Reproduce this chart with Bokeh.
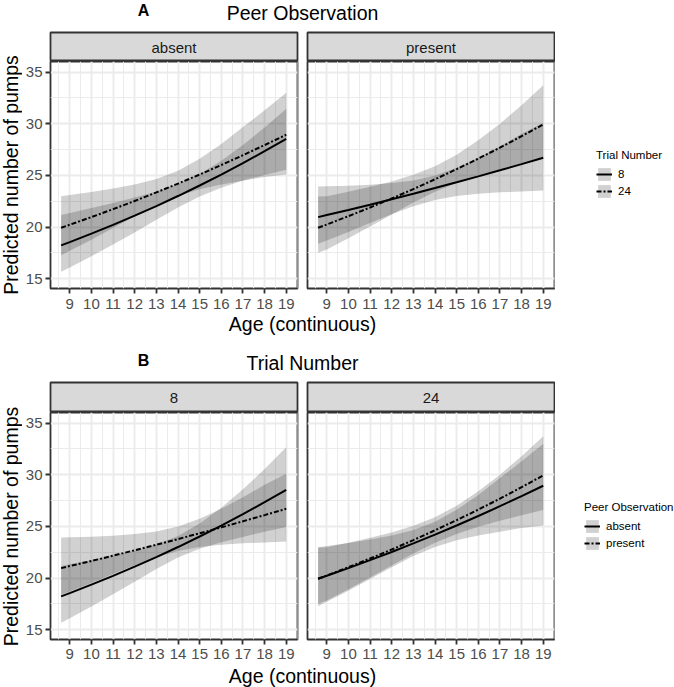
import math
from bokeh.plotting import figure
from bokeh.models import Range1d, FixedTicker, Label, Legend, LegendItem
from bokeh.layouts import row, column
from bokeh.embed import file_html
from bokeh.resources import INLINE

# ---------------- data ----------------
age = [8.6, 9, 10, 11, 12, 13, 14, 15, 16, 17, 18, 19]

# predicted lines
absent_t8 = [18.23, 18.55, 19.37, 20.22, 21.11, 22.04, 23.01, 24.03, 25.09, 26.19, 27.35, 28.55]
absent_t24 = [19.94, 20.23, 20.97, 21.74, 22.53, 23.36, 24.21, 25.09, 26.01, 26.96, 27.94, 28.94]
present_t8 = [20.97, 21.17, 21.66, 22.17, 22.70, 23.23, 23.78, 24.34, 24.91, 25.50, 26.10, 26.71]
present_t24 = [19.94, 20.25, 21.06, 21.90, 22.77, 23.68, 24.63, 25.61, 26.63, 27.69, 28.80, 29.94]

# confidence bands
absent_t8_lo_A = [15.69, 16.10, 17.18, 18.31, 19.49, 20.71, 21.90, 22.97, 23.82, 24.52, 25.05, 25.55]
absent_t8_hi_A = [21.18, 21.37, 21.84, 22.33, 22.86, 23.46, 24.17, 25.14, 26.42, 27.95, 29.65, 31.45]
absent_t8_lo_B = [15.69, 16.12, 17.25, 18.43, 19.66, 20.89, 22.00, 22.84, 23.47, 23.99, 24.48, 24.95]
absent_t8_hi_B = [21.18, 21.34, 21.75, 22.18, 22.66, 23.25, 24.07, 25.28, 26.82, 28.59, 30.55, 32.67]
absent_t24_lo = [17.29, 17.71, 18.79, 19.92, 21.05, 22.13, 23.02, 23.66, 24.12, 24.49, 24.85, 25.10]
absent_t24_hi = [23.00, 23.11, 23.40, 23.73, 24.12, 24.66, 25.46, 26.61, 28.05, 29.68, 31.30, 33.00]
present_t8_lo = [18.38, 18.71, 19.54, 20.39, 21.24, 22.01, 22.62, 23.01, 23.23, 23.37, 23.45, 23.55]
present_t8_hi = [23.93, 23.95, 24.01, 24.10, 24.26, 24.52, 25.00, 25.74, 26.71, 27.82, 29.04, 30.10]
present_t24_lo = [17.52, 17.84, 18.93, 20.07, 21.23, 22.38, 23.42, 24.28, 24.97, 25.55, 26.08, 26.60]
present_t24_hi = [22.97, 22.99, 23.43, 23.90, 24.42, 25.06, 25.90, 27.01, 28.40, 30.01, 31.80, 33.72]

x_ticks = [9, 10, 11, 12, 13, 14, 15, 16, 17, 18, 19]
x_minor = [8.5, 9.5, 10.5, 11.5, 12.5, 13.5, 14.5, 15.5, 16.5, 17.5, 18.5, 19.5]
y_ticks = [15, 20, 25, 30, 35]
y_minor = [17.5, 22.5, 27.5, 32.5]

trial_labels = ["8", "24"]
peer_labels = ["absent", "present"]

# ---------------- styles ----------------
FONT = "Liberation Sans"
BAND_ALPHA = 0.18
DASH = "5 2 2 2"
LW = 2
BORDER = "#333333"
YLAB_W = 22
LEFT_B = 28


def make_panel(show_y, series, bottom, x_standoff):
    width = LEFT_B + 247 + 5 if show_y else 253
    p = figure(width=width, height=227 + bottom,
               x_range=Range1d(8.11, 19.52), y_range=Range1d(14.06, 36.03),
               output_backend="svg", toolbar_location=None,
               min_border_left=LEFT_B if show_y else 5,
               min_border_right=5 if show_y else 1,
               min_border_top=0, min_border_bottom=bottom,
               y_axis_location="left" if show_y else None)
    p.outline_line_color = BORDER
    p.outline_line_width = 1.8
    p.xgrid.ticker = FixedTicker(ticks=x_ticks, minor_ticks=x_minor)
    p.ygrid.ticker = FixedTicker(ticks=y_ticks, minor_ticks=y_minor)
    p.grid.grid_line_color = "#ebebeb"
    p.grid.grid_line_width = 1.9
    p.grid.minor_grid_line_color = "#ebebeb"
    p.grid.minor_grid_line_width = 1.0
    axes = [p.xaxis[0]] + ([p.yaxis[0]] if show_y else [])
    for ax in axes:
        ax.axis_line_color = None
        ax.major_tick_line_color = BORDER
        ax.major_tick_line_width = 1.8
        ax.major_tick_out = 5
        ax.major_tick_in = 0
        ax.minor_tick_line_color = None
        ax.major_label_text_font = FONT
        ax.major_label_text_font_size = "15px"
        ax.major_label_text_color = "#4d4d4d"
    p.xaxis[0].ticker = FixedTicker(ticks=x_ticks)
    p.xaxis[0].major_label_standoff = x_standoff
    if show_y:
        p.yaxis[0].ticker = FixedTicker(ticks=y_ticks)
        p.yaxis[0].major_label_standoff = 3
    for lo, hi, _, _ in series:
        p.varea(x=age, y1=lo, y2=hi, fill_color="black", fill_alpha=BAND_ALPHA)
    for _, _, line, dash in series:
        p.line(x=age, y=line, line_color="black", line_width=LW, line_dash=dash)
    return p


def make_strip(show_y, height, text):
    width = LEFT_B + 247 + 5 if show_y else 253
    s = figure(width=width, height=height, x_range=Range1d(0, 1), y_range=Range1d(0, 1),
               x_axis_type=None, y_axis_type=None, output_backend="svg", toolbar_location=None,
               min_border_left=LEFT_B if show_y else 5, min_border_right=5 if show_y else 1,
               min_border_top=1, min_border_bottom=0)
    s.background_fill_color = "#d9d9d9"
    s.outline_line_color = BORDER
    s.outline_line_width = 1.8
    s.add_layout(Label(x=0.5, y=0.5, text=text, text_align="center", text_baseline="middle",
                       text_font=FONT, text_font_size="15px", text_color="#1a1a1a"))
    return s


def make_text_fig(width, height, labels, angle=0):
    f = figure(width=width, height=height, x_range=Range1d(0, width), y_range=Range1d(0, height),
               x_axis_type=None, y_axis_type=None, output_backend="svg", toolbar_location=None,
               min_border=0)
    f.outline_line_color = None
    for (x, y, txt, size, style) in labels:
        f.add_layout(Label(x=x, y=y, text=txt, text_align="center", text_baseline="middle",
                           text_font=FONT, text_font_size=size, text_font_style=style,
                           text_color="black", angle=angle))
    return f


def make_legend_fig(width, height, title, labels, series, loc):
    # the renderers use the real series but the ranges keep them out of view;
    # only their legend glyphs are shown
    f = figure(width=width, height=height, x_range=Range1d(0, 1), y_range=Range1d(0, 1),
               x_axis_type=None, y_axis_type=None, output_backend="svg", toolbar_location=None,
               min_border=0)
    f.outline_line_color = None
    items = []
    for lab, dash, (lo, hi, line) in zip(labels, ["solid", DASH], series):
        band = f.varea(x=age, y1=lo, y2=hi, fill_color="black", fill_alpha=BAND_ALPHA)
        ln = f.line(x=age, y=line, line_color="black", line_width=LW, line_dash=dash)
        items.append(LegendItem(label=lab, renderers=[band, ln]))
    leg = Legend(items=items, location=loc, title=title,
                 padding=0, margin=0, spacing=1,
                 glyph_width=16, glyph_height=16, label_height=16, label_standoff=6,
                 label_text_font=FONT, label_text_font_size="11.5px", label_text_color="black",
                 title_text_font=FONT, title_text_font_size="11.5px", title_text_font_style="normal",
                 title_text_color="black", title_standoff=5,
                 border_line_color=None, background_fill_alpha=0)
    f.add_layout(leg)
    return f


XW = LEFT_B + 247 + 5 + 253   # width under both panels
XC = 302 - YLAB_W             # centre of both panels in that width
LEG_W = 674 - YLAB_W - XW
YLAB_X = 10.5

# ---------------- row A: by peer observation ----------------
BOT_A = 26
headA = make_text_fig(674, 31, [(143, 31 - 9.5, "A", "16px", "bold"),
                                (302, 31 - 12.5, "Peer Observation", "19.5px", "normal")])
stripAL = make_strip(True, 30, peer_labels[0])
stripAR = make_strip(False, 30, peer_labels[1])
panelAL = make_panel(True, [(absent_t8_lo_A, absent_t8_hi_A, absent_t8, "solid"),
                            (absent_t24_lo, absent_t24_hi, absent_t24, DASH)], BOT_A, 5)
panelAR = make_panel(False, [(present_t8_lo, present_t8_hi, present_t8, "solid"),
                             (present_t24_lo, present_t24_hi, present_t24, DASH)], BOT_A, 5)
topA = 31 + 30 + 227 + BOT_A
xlabA_h = 345 - topA
xlabA = make_text_fig(XW, xlabA_h, [(XC, xlabA_h - (323.5 - topA), "Age (continuous)", "19.5px", "normal")])
ylabA = make_text_fig(YLAB_W, 314, [(YLAB_X, 314 - 143.5, "Predicted number of pumps", "19.5px", "normal")],
                      angle=math.pi / 2)
legA = make_legend_fig(LEG_W, 314, "Trial Number", trial_labels,
                       [(absent_t8_lo_A, absent_t8_hi_A, absent_t8),
                        (absent_t24_lo, absent_t24_hi, absent_t24)], (41, 146))

rowA = row(ylabA, column(row(column(stripAL, panelAL), column(stripAR, panelAR)), xlabA), legA)

# ---------------- row B: by trial number ----------------
BOT_B = 25
headB = make_text_fig(674, 36, [(143, 36 - 14.5, "B", "16px", "bold"),
                                (302, 36 - 17, "Trial Number", "19.5px", "normal")])
stripBL = make_strip(True, 31, trial_labels[0])
stripBR = make_strip(False, 31, trial_labels[1])
panelBL = make_panel(True, [(absent_t8_lo_B, absent_t8_hi_B, absent_t8, "solid"),
                            (present_t8_lo, present_t8_hi, present_t8, DASH)], BOT_B, 4)
panelBR = make_panel(False, [(absent_t24_lo, absent_t24_hi, absent_t24, "solid"),
                             (present_t24_lo, present_t24_hi, present_t24, DASH)], BOT_B, 4)
topB = 381 + 31 + 227 + BOT_B
xlabB_h = 687 - topB
xlabB = make_text_fig(XW, xlabB_h, [(XC, xlabB_h - (675 - topB), "Age (continuous)", "19.5px", "normal")])
ylabB = make_text_fig(YLAB_W, 306, [(YLAB_X, 306 - 145, "Predicted number of pumps", "19.5px", "normal")],
                      angle=math.pi / 2)
legB = make_legend_fig(LEG_W, 306, "Peer Observation", peer_labels,
                       [(absent_t24_lo, absent_t24_hi, absent_t24),
                        (present_t24_lo, present_t24_hi, present_t24)], (29, 136))

rowB = row(ylabB, column(row(column(stripBL, panelBL), column(stripBR, panelBR)), xlabB), legB)

layout = column(headA, rowA, headB, rowB)

open("out.html", "w").write(file_html(layout, INLINE))
